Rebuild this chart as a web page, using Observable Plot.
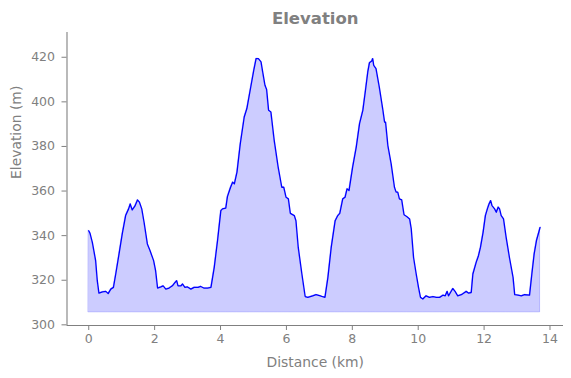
<!DOCTYPE html>
<html>
<head>
<meta charset="utf-8">
<script src="https://cdn.jsdelivr.net/npm/d3@7"></script>
<script src="https://cdn.jsdelivr.net/npm/@observablehq/plot@0.6"></script>
<style>
  html, body { margin: 0; padding: 0; background: white; }
  svg { display: block; }
</style>
</head>
<body>
<div id="chart"></div>
<script>
const chartTitle = "Elevation";
const xLabel = "Distance (km)";
const yLabel = "Elevation (m)";
const xTicks = [0, 2, 4, 6, 8, 10, 12, 14];
const yTicks = [300, 320, 340, 360, 380, 400, 420];
const baseline = 305.6;

const distanceKm = [0, 0.04, 0.11, 0.21, 0.26, 0.31, 0.42, 0.52, 0.59, 0.67, 0.75, 0.82, 0.92, 1.02, 1.12, 1.21, 1.26, 1.32, 1.40, 1.48, 1.54, 1.61, 1.68, 1.78, 1.86, 1.97, 2.03, 2.09, 2.19, 2.26, 2.34, 2.44, 2.54, 2.62, 2.67, 2.71, 2.80, 2.85, 2.92, 3.00, 3.10, 3.20, 3.32, 3.40, 3.49, 3.61, 3.71, 3.81, 3.91, 4.01, 4.06, 4.16, 4.21, 4.30, 4.37, 4.42, 4.50, 4.60, 4.72, 4.80, 4.90, 5.01, 5.08, 5.15, 5.23, 5.28, 5.35, 5.40, 5.46, 5.53, 5.63, 5.75, 5.86, 5.92, 5.99, 6.06, 6.12, 6.24, 6.29, 6.36, 6.47, 6.57, 6.65, 6.80, 6.90, 7.03, 7.10, 7.17, 7.26, 7.36, 7.48, 7.56, 7.62, 7.71, 7.78, 7.84, 7.90, 8.01, 8.12, 8.22, 8.32, 8.40, 8.47, 8.52, 8.59, 8.62, 8.65, 8.72, 8.82, 8.93, 8.98, 9.01, 9.08, 9.18, 9.28, 9.33, 9.38, 9.43, 9.50, 9.57, 9.66, 9.74, 9.79, 9.86, 9.94, 10.01, 10.07, 10.14, 10.24, 10.34, 10.45, 10.55, 10.65, 10.75, 10.82, 10.88, 10.92, 10.98, 11.05, 11.12, 11.20, 11.31, 11.41, 11.46, 11.53, 11.61, 11.66, 11.76, 11.83, 11.89, 11.97, 12.04, 12.10, 12.15, 12.20, 12.24, 12.32, 12.37, 12.43, 12.47, 12.52, 12.59, 12.67, 12.77, 12.88, 12.93, 13.03, 13.13, 13.23, 13.38, 13.45, 13.52, 13.59, 13.66, 13.70];

const elevationM = [342.2, 341, 337, 328.8, 319.8, 314.2, 314.8, 315, 314, 316, 316.8, 322.8, 331.8, 341, 349, 352, 354.2, 351.5, 353.2, 356, 355, 352, 346, 336.3, 333.3, 328.8, 324.3, 316.5, 317, 317.5, 316, 316.5, 317.5, 319, 319.8, 317.5, 317.5, 318.3, 316.8, 317, 316, 316.8, 316.8, 317.2, 316.5, 316.5, 316.8, 325.8, 337.8, 351.2, 352, 352.3, 357.5, 361.5, 364, 363.2, 368.5, 381.2, 393.2, 397, 405.2, 414.2, 419.4, 419.4, 417.9, 413.4, 407.4, 405.5, 396.2, 395.4, 382.7, 370.7, 361.7, 361.7, 357.2, 356.5, 350, 349, 346.7, 334.7, 322.8, 312.7, 312.3, 313, 313.5, 313, 312.6, 312.3, 321.3, 334.7, 346.7, 349, 350, 356.5, 357.2, 361, 360.2, 370.7, 379.7, 390.2, 396.2, 405.2, 413.4, 417.5, 418.3, 419.4, 416.4, 414.9, 406.6, 396.2, 390.9, 390.9, 380.4, 372.2, 361.7, 359.5, 359.5, 356.5, 356, 349.4, 348.5, 347.5, 343, 330.2, 322.8, 316.8, 312.3, 311.6, 313, 312.3, 312.6, 312.3, 312.3, 313.3, 313, 315, 313, 314.5, 316.3, 315, 313, 313.5, 314.5, 315, 314.2, 314.5, 322.8, 328, 331, 334.7, 341.5, 349, 352, 354.2, 355.7, 353.5, 352, 350.5, 352.8, 352, 349, 347.5, 339.2, 330.2, 321.3, 313.5, 313.3, 313, 313.5, 313.3, 322.8, 331.8, 337.8, 341.5, 343.7];

const data = distanceKm.map((d, i) => ({dist: d, elev: elevationM[i]}));

const gray = "#808080";
const xDomain = [-0.66, 14.41];
const yDomain = [299.7, 431.1];

const chart = Plot.plot({
  width: 571,
  height: 378,
  marginLeft: 66.5,
  marginRight: 8,
  marginTop: 32,
  marginBottom: 53,
  style: {fontFamily: "'DejaVu Sans', sans-serif", fontSize: "12.5px", color: gray, background: "white", overflow: "visible"},
  x: {domain: xDomain, ticks: xTicks, tickSize: 5, tickPadding: 4, label: null},
  y: {domain: yDomain, ticks: yTicks, tickSize: 5, tickPadding: 7, label: null},
  marks: [
    Plot.areaY(data, {x: "dist", y1: () => baseline, y2: "elev", fill: "#0000ff", fillOpacity: 0.2, stroke: "#0000ff", strokeOpacity: 0.2, strokeWidth: 1}),
    Plot.lineY(data, {x: "dist", y: "elev", stroke: "#0000ff", strokeWidth: 1.3}),
    Plot.ruleX([xDomain[0]], {stroke: gray, strokeWidth: 1.1}),
    Plot.ruleY([yDomain[0]], {stroke: gray, strokeWidth: 1.1}),
    Plot.text([chartTitle], {text: d => d, frameAnchor: "top", dy: -14, lineAnchor: "middle", fontSize: 16.5, fontWeight: "bold", fill: gray}),
    Plot.text([xLabel], {text: d => d, frameAnchor: "bottom", dy: 37, lineAnchor: "middle", fontSize: 13.9, fill: gray}),
    Plot.text([yLabel], {text: d => d, frameAnchor: "left", dx: -50, rotate: -90, lineAnchor: "middle", fontSize: 13.9, fill: gray})
  ]
});
document.getElementById("chart").appendChild(chart);
</script>
</body>
</html>
